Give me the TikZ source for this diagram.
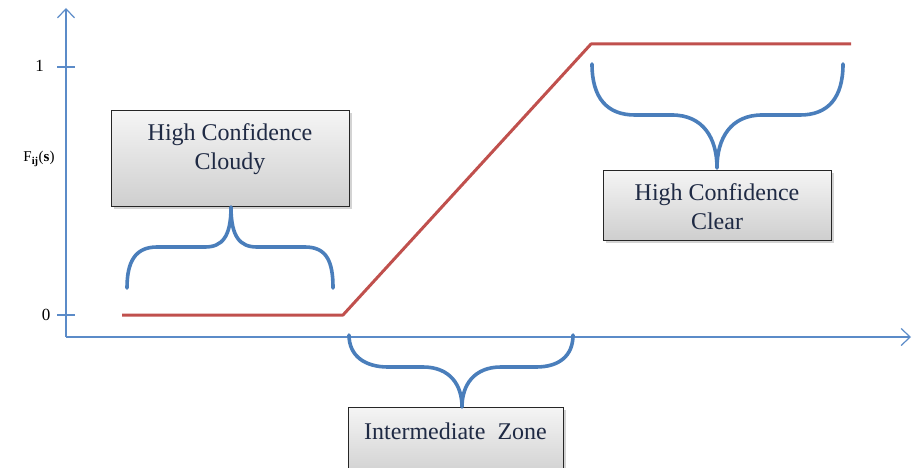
\documentclass[tikz,border=0pt]{standalone}
\usepackage{fontspec}
\setmainfont{Liberation Serif}
\usetikzlibrary{shadows,arrows.meta}
\definecolor{axisblue}{HTML}{5B8BC8}
\definecolor{bracea}{HTML}{4A7EBB}
\definecolor{redline}{HTML}{C0504D}
\definecolor{navytext}{HTML}{1F2A44}
\tikzset{
  axis/.style={axisblue, line width=1.4pt},
  tickline/.style={axisblue, line width=1.2pt},
  brace/.style={bracea, line width=3.6pt, line cap=round, line join=round},
  fline/.style={redline, line width=3pt, line join=round},
  zonebox/.style={draw=black!85, line width=1pt, rectangle, top color=gray!8, bottom color=gray!38,
    drop shadow={shadow xshift=2.5pt, shadow yshift=-2.5pt, opacity=0.35}},
  boxtext/.style={text=navytext, font=\fontsize{24}{29}\selectfont, align=center},
  ticklabel/.style={font=\fontsize{17}{19}\selectfont},
}
\begin{document}
\begin{tikzpicture}[x=1pt,y=-1pt]
\useasboundingbox (0,0) rectangle (912,468);
% axes
\coordinate (origin) at (66,337);
\coordinate (ytop) at (66,8);
\coordinate (xend) at (911,337);
\draw[axis,-{Straight Barb[length=9pt,width=17pt,line width=1.2pt]}] (origin) -- (ytop);
\draw[axis,-{Straight Barb[length=9pt,width=17pt,line width=1.2pt]}] (origin) -- (xend);
% ticks
\coordinate (t1a) at (57,67); \coordinate (t1b) at (75,67);
\coordinate (t0a) at (57,315); \coordinate (t0b) at (75,315);
\draw[tickline] (t1a) -- (t1b);
\draw[tickline] (t0a) -- (t0b);
\node[ticklabel] (one) at (39.5,66) {1};
\node[ticklabel] (zero) at (46,315) {0};
\node[font=\fontsize{15}{17}\selectfont] (flabel) at (39,159) {F\textsubscript{\textbf{ij}}(\textbf{s})};
% red function
\coordinate (p0) at (122,315);
\coordinate (p1) at (343,315);
\coordinate (p2) at (591,44);
\coordinate (p3) at (851,44);
\draw[fline] (p0) -- (p1) -- (p2) -- (p3);
% boxes
\node[zonebox, minimum width=238pt, minimum height=95pt] (cloudy) at (230,158.5) {};
\node[boxtext] (cloudytext) at (230,149) {High Confidence\\Cloudy};
\node[zonebox, minimum width=228pt, minimum height=70pt] (clear) at (717,205) {};
\node[boxtext] (cleartext) at (717,207) {High Confidence\\Clear};
\node[zonebox, minimum width=215pt, minimum height=72pt] (inter) at (455.5,443) {};
\node[boxtext] (intertext) at (455.5,431) {Intermediate\ \ Zone};
% braces
\coordinate (b1tip) at (231,207);
\draw[brace] (127,288) .. controls (127,262) and (135,247) .. (157,247) -- (205,247)
  .. controls (222,247) and (231,237) .. (b1tip)
  .. controls (231,237) and (240,247) .. (257,247) -- (305,247)
  .. controls (327,247) and (333,262) .. (333,288);
\coordinate (b2tip) at (717,168);
\draw[brace] (592,64) .. controls (592,98) and (607,115) .. (635,115) -- (672,115)
  .. controls (703,115) and (717,138) .. (b2tip)
  .. controls (717,138) and (731,115) .. (762,115) -- (800,115)
  .. controls (828,115) and (843,98) .. (843,64);
\coordinate (b3tip) at (462,407);
\draw[brace] (349,335) .. controls (349,356) and (365,367) .. (388,367) -- (423,367)
  .. controls (450,367) and (462,385) .. (b3tip)
  .. controls (462,385) and (474,367) .. (501,367) -- (536,367)
  .. controls (559,367) and (573,356) .. (573,335);
\end{tikzpicture}
\end{document}
